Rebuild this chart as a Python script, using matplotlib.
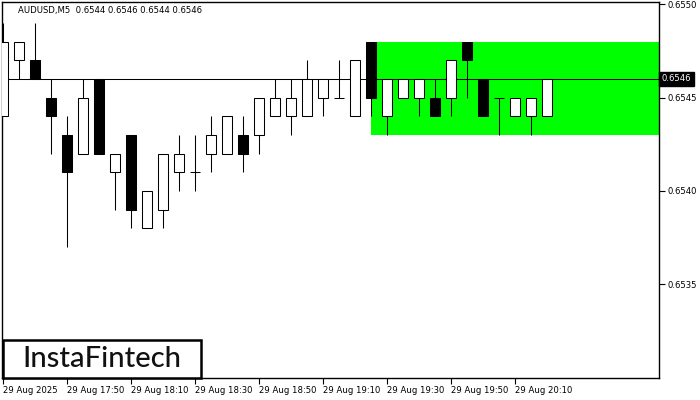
import matplotlib
matplotlib.use("Agg")
import matplotlib.pyplot as plt
from matplotlib.patches import Rectangle
import matplotlib.transforms as mtransforms

# ---- data (AUDUSD M5, 29 Aug 2025, 17:30 .. 20:20) ----
opens  = [0.6544, 0.6547, 0.6547, 0.6545, 0.6543, 0.6542, 0.6546, 0.6541, 0.6543, 0.6538,
          0.6539, 0.6541, 0.6541, 0.6542, 0.6542, 0.6543, 0.6543, 0.6544, 0.6544, 0.6544,
          0.6545, 0.6545, 0.6544, 0.6548, 0.6544, 0.6545, 0.6545, 0.6545, 0.6545, 0.6548,
          0.6546, 0.6545, 0.6544, 0.6544, 0.6544]
highs  = [0.6549, 0.6548, 0.6549, 0.6546, 0.6544, 0.6546, 0.6546, 0.6542, 0.6543, 0.6540,
          0.6542, 0.6543, 0.6543, 0.6544, 0.6544, 0.6544, 0.6545, 0.6546, 0.6546, 0.6547,
          0.6546, 0.6547, 0.6547, 0.6548, 0.6546, 0.6546, 0.6546, 0.6546, 0.6547, 0.6548,
          0.6546, 0.6545, 0.6545, 0.6545, 0.6546]
lows   = [0.6544, 0.6546, 0.6546, 0.6542, 0.6537, 0.6542, 0.6542, 0.6539, 0.6538, 0.6538,
          0.6538, 0.6540, 0.6540, 0.6541, 0.6542, 0.6541, 0.6542, 0.6544, 0.6543, 0.6544,
          0.6544, 0.6545, 0.6544, 0.6544, 0.6543, 0.6545, 0.6544, 0.6544, 0.6544, 0.6545,
          0.6544, 0.6543, 0.6544, 0.6543, 0.6544]
closes = [0.6548, 0.6548, 0.6546, 0.6544, 0.6541, 0.6545, 0.6542, 0.6542, 0.6539, 0.6540,
          0.6542, 0.6542, 0.6541, 0.6543, 0.6544, 0.6542, 0.6545, 0.6545, 0.6545, 0.6546,
          0.6546, 0.6545, 0.6547, 0.6545, 0.6546, 0.6546, 0.6546, 0.6544, 0.6547, 0.6547,
          0.6544, 0.6545, 0.6545, 0.6545, 0.6546]

tick_idx = [0, 4, 8, 12, 16, 20, 24, 28, 32]
tick_labels = ["29 Aug 2025", "29 Aug 17:50", "29 Aug 18:10", "29 Aug 18:30", "29 Aug 18:50",
               "29 Aug 19:10", "29 Aug 19:30", "29 Aug 19:50", "29 Aug 20:10"]
price_ticks = [0.6535, 0.6540, 0.6545, 0.6550]
current_price = 0.6546
title = "AUDUSD,M5  0.6544 0.6546 0.6544 0.6546"
zone_start = 23
zone_low, zone_high = 0.6543, 0.6548

# ---- figure ----
W, H = 700, 400
fig = plt.figure(figsize=(7, 4), dpi=100)
fig.patch.set_facecolor("white")
ax = fig.add_axes([2 / W, (H - 378) / H, 657 / W, 376 / H])
ax.set_facecolor("white")

x_left, x_right = -0.0625, 41.0
ax.set_xlim(x_left, x_right)
ax.set_ylim(0.652998, 0.655012)

lw = 0.75
# green zone
ax.fill_between([zone_start, x_right], zone_low, zone_high, color="#00ff00", lw=0, zorder=1)
# current price line
ax.axhline(current_price, color="black", lw=lw, zorder=2)

xs = list(range(len(opens)))
body_w = 0.65
for i in xs:
    o, h, l, c = opens[i], highs[i], lows[i], closes[i]
    ax.vlines(i, l, h, color="black", lw=lw, zorder=3)
    if o == c:
        ax.hlines(o, i - body_w / 2, i + body_w / 2, color="black", lw=lw, zorder=4)
    else:
        bull = c > o
        ax.bar(i, abs(c - o), bottom=min(o, c), width=body_w,
               color="white" if bull else "black", edgecolor="black",
               linewidth=lw, zorder=4)

# axes styling
for s in ax.spines.values():
    s.set_color("black")
    s.set_linewidth(1.0)

fs = 6.1
ax.yaxis.tick_right()
ax.set_yticks(price_ticks)
ax.set_yticklabels([f"{p:.4f}" for p in price_ticks])
ax.tick_params(axis="y", direction="out", length=4, width=0.8, pad=2,
               labelsize=fs, colors="black")
ax.set_xticks(tick_idx)
ax.set_xticklabels(tick_labels, ha="left")
ax.tick_params(axis="x", direction="out", length=4, width=0.8, pad=2,
               labelsize=fs, colors="black")
for lab in ax.get_xticklabels():
    lab.set_horizontalalignment("left")

# current price label on the right axis
trans = mtransforms.blended_transform_factory(ax.transAxes, ax.transData)
ax.text(1.0 + 3 / 657, current_price, f"{current_price:.4f}", transform=trans,
        ha="left", va="center", fontsize=fs, color="white", zorder=10,
        bbox=dict(boxstyle="square,pad=0.3", facecolor="black", edgecolor="black"),
        clip_on=False)

# header text
fig.text(18 / W, 1 - 11 / H, title, ha="left", va="center", fontsize=fs, color="black")

# logo box
fig.patches.append(Rectangle((3 / W, (H - 378) / H), 198 / W, 38 / H,
                             transform=fig.transFigure, facecolor="white",
                             edgecolor="black", linewidth=1.8, zorder=20))
fig.text(102 / W, 1 - 359 / H, "InstaFintech", ha="center", va="center",
         fontsize=21, color="#111111", family="Lato", fontweight="medium", zorder=21)

fig.savefig("out.png", dpi=100, facecolor="white")
